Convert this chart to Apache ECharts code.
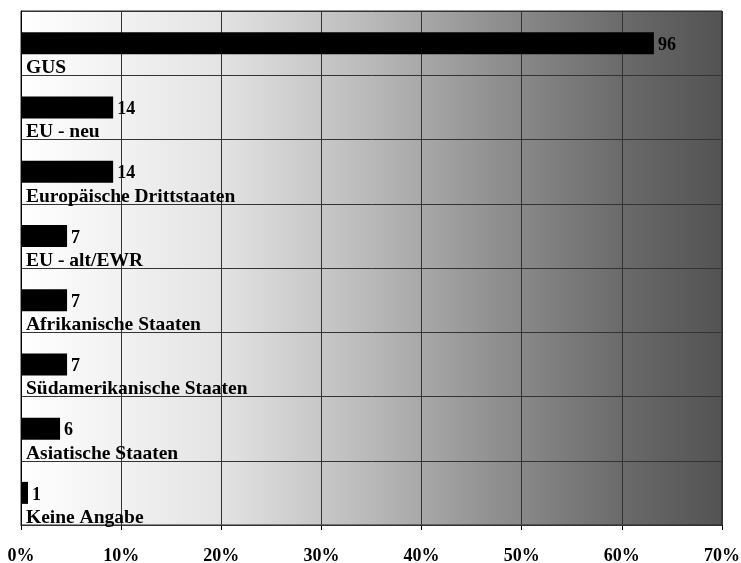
<!DOCTYPE html>
<html>
<head>
<meta charset="utf-8">
<script src="https://cdn.jsdelivr.net/npm/echarts@6/dist/echarts.min.js"></script>
<style>
  html, body { margin: 0; padding: 0; background: #fff; }
  #main { width: 741px; height: 563px; }
</style>
</head>
<body>
<div id="main"></div>
<script>
// Herkunft, Anzahl und Anteil in %
const categories = ["GUS", "EU - neu", "Europäische Drittstaaten", "EU - alt/EWR",
  "Afrikanische Staaten", "Südamerikanische Staaten", "Asiatische Staaten", "Keine Angabe"];
const counts = [96, 14, 14, 7, 7, 7, 6, 1];
const percents = [63.2, 9.2, 9.2, 4.6, 4.6, 4.6, 3.9, 0.7];
const xTicks = [0, 10, 20, 30, 40, 50, 60, 70];

const font = '"Liberation Serif", "DejaVu Serif", serif';
var myChart = echarts.init(document.getElementById("main"));

myChart.setOption({
  animation: false,
  grid: {
    left: 21, right: 19, top: 11, bottom: 38,
    outerBoundsMode: "none",
    containLabel: false,
    show: true,
    borderColor: "#222",
    borderWidth: 1,
    backgroundColor: new echarts.graphic.LinearGradient(0, 0, 1, 0, [
      { offset: 0, color: "#ffffff" },
      { offset: 0.28, color: "#e4e4e4" },
      { offset: 0.48, color: "#bdbdbd" },
      { offset: 0.68, color: "#8f8f8f" },
      { offset: 0.88, color: "#666666" },
      { offset: 1, color: "#535353" },
    ]),
  },
  xAxis: {
    type: "value",
    min: xTicks[0],
    max: xTicks[xTicks.length - 1],
    interval: 10,
    axisLine: { show: true, lineStyle: { color: "#000", width: 1 } },
    axisTick: { show: true, length: 5, lineStyle: { color: "#000" } },
    splitLine: { show: true, lineStyle: { color: "#333", width: 1 } },
    axisLabel: {
      margin: 22,
      formatter: "{value}%",
      fontFamily: font,
      fontWeight: "bold",
      fontSize: 18,
      color: "#000",
    },
  },
  yAxis: {
    type: "category",
    data: categories,
    inverse: true,
    axisLine: { show: true, lineStyle: { color: "#000" } },
    axisTick: { show: false },
    splitLine: { show: true, lineStyle: { color: "#333", width: 1 } },
    axisLabel: {
      inside: true,
      interval: 0,
      margin: 5,
      align: "left",
      verticalAlign: "top",
      padding: [15, 0, 0, 0],
      fontFamily: font,
      fontWeight: "bold",
      fontSize: 19.5,
      color: "#000",
    },
    z: 5,
  },
  series: [
    {
      type: "bar",
      data: percents,
      barWidth: 22,
      itemStyle: { color: "#000" },
      label: {
        show: true,
        position: "right",
        distance: 4,
        formatter: (p) => String(counts[p.dataIndex]),
        fontFamily: font,
        fontWeight: "bold",
        fontSize: 18,
        color: "#000",
        offset: [0, 2],
      },
    },
  ],
});
</script>
</body>
</html>
